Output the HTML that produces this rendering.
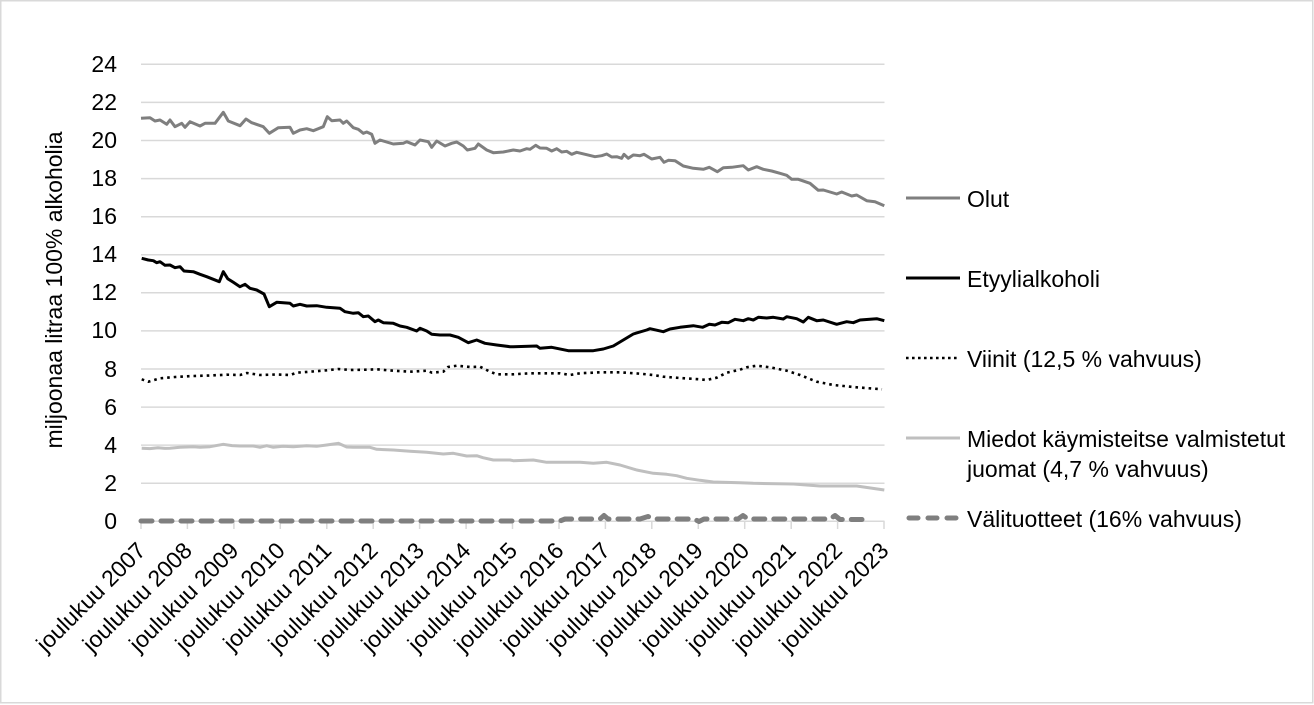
<!DOCTYPE html>
<html>
<head>
<meta charset="utf-8">
<style>
html,body{margin:0;padding:0;background:#fff;}
svg{display:block;}
text{font-family:"Liberation Sans",Arial,sans-serif;fill:#000;}
</style>
</head>
<body>
<svg width="1314" height="705" viewBox="0 0 1314 705" xmlns="http://www.w3.org/2000/svg">
<rect x="0.75" y="0.75" width="1312" height="702" fill="#fff" stroke="#d9d9d9" stroke-width="1.5"/>

<!-- gridlines -->
<g stroke="#d9d9d9" stroke-width="1.5">
<line x1="141" y1="64.3" x2="884.5" y2="64.3"/>
<line x1="141" y1="102.4" x2="884.5" y2="102.4"/>
<line x1="141" y1="140.5" x2="884.5" y2="140.5"/>
<line x1="141" y1="178.6" x2="884.5" y2="178.6"/>
<line x1="141" y1="216.7" x2="884.5" y2="216.7"/>
<line x1="141" y1="254.7" x2="884.5" y2="254.7"/>
<line x1="141" y1="292.8" x2="884.5" y2="292.8"/>
<line x1="141" y1="330.9" x2="884.5" y2="330.9"/>
<line x1="141" y1="369.0" x2="884.5" y2="369.0"/>
<line x1="141" y1="407.1" x2="884.5" y2="407.1"/>
<line x1="141" y1="445.1" x2="884.5" y2="445.1"/>
<line x1="141" y1="483.2" x2="884.5" y2="483.2"/>
<line x1="141" y1="521.3" x2="884.5" y2="521.3"/>
<!-- ticks -->
<line x1="141.0" y1="521" x2="141.0" y2="529"/>
<line x1="187.4" y1="521" x2="187.4" y2="529"/>
<line x1="233.9" y1="521" x2="233.9" y2="529"/>
<line x1="280.3" y1="521" x2="280.3" y2="529"/>
<line x1="326.8" y1="521" x2="326.8" y2="529"/>
<line x1="373.2" y1="521" x2="373.2" y2="529"/>
<line x1="419.6" y1="521" x2="419.6" y2="529"/>
<line x1="466.1" y1="521" x2="466.1" y2="529"/>
<line x1="512.5" y1="521" x2="512.5" y2="529"/>
<line x1="559.0" y1="521" x2="559.0" y2="529"/>
<line x1="605.4" y1="521" x2="605.4" y2="529"/>
<line x1="651.8" y1="521" x2="651.8" y2="529"/>
<line x1="698.3" y1="521" x2="698.3" y2="529"/>
<line x1="744.7" y1="521" x2="744.7" y2="529"/>
<line x1="791.2" y1="521" x2="791.2" y2="529"/>
<line x1="837.6" y1="521" x2="837.6" y2="529"/>
<line x1="884.0" y1="521" x2="884.0" y2="529"/>
</g>

<!-- y tick labels -->
<g font-size="23" text-anchor="end">
<text x="117" y="72">24</text>
<text x="117" y="110">22</text>
<text x="117" y="148">20</text>
<text x="117" y="186">18</text>
<text x="117" y="224">16</text>
<text x="117" y="262">14</text>
<text x="117" y="300">12</text>
<text x="117" y="338">10</text>
<text x="117" y="377">8</text>
<text x="117" y="415">6</text>
<text x="117" y="453">4</text>
<text x="117" y="491">2</text>
<text x="117" y="529">0</text>
</g>

<!-- y axis title -->
<text font-size="23" text-anchor="middle" transform="translate(62,290) rotate(-90)">miljoonaa litraa 100% alkoholia</text>

<!-- x labels -->
<g font-size="23" text-anchor="end">
<text transform="translate(147,552) rotate(-45)">joulukuu 2007</text>
<text transform="translate(193.4,552) rotate(-45)">joulukuu 2008</text>
<text transform="translate(239.9,552) rotate(-45)">joulukuu 2009</text>
<text transform="translate(286.3,552) rotate(-45)">joulukuu 2010</text>
<text transform="translate(332.8,552) rotate(-45)">joulukuu 2011</text>
<text transform="translate(379.2,552) rotate(-45)">joulukuu 2012</text>
<text transform="translate(425.6,552) rotate(-45)">joulukuu 2013</text>
<text transform="translate(472.1,552) rotate(-45)">joulukuu 2014</text>
<text transform="translate(518.5,552) rotate(-45)">joulukuu 2015</text>
<text transform="translate(565.0,552) rotate(-45)">joulukuu 2016</text>
<text transform="translate(611.4,552) rotate(-45)">joulukuu 2017</text>
<text transform="translate(657.8,552) rotate(-45)">joulukuu 2018</text>
<text transform="translate(704.3,552) rotate(-45)">joulukuu 2019</text>
<text transform="translate(750.7,552) rotate(-45)">joulukuu 2020</text>
<text transform="translate(797.2,552) rotate(-45)">joulukuu 2021</text>
<text transform="translate(843.6,552) rotate(-45)">joulukuu 2022</text>
<text transform="translate(890.0,552) rotate(-45)">joulukuu 2023</text>
</g>

<!-- Välituotteet -->
<polyline fill="none" stroke="#7f7f7f" stroke-width="5" stroke-linecap="round" stroke-linejoin="round" stroke-dasharray="11 9"
points="141,521 560,521 565,519 600,519 604,515.5 608,519 640,519 648,516.5 655,519 694,519 699,521.5 704,519 738,519 743,515.5 748,519 830,519 835,515.5 840,519.5 862,519.5"/>

<!-- Miedot -->
<polyline fill="none" stroke="#bfbfbf" stroke-width="3" stroke-linejoin="round"
points="141.7,448.3 150,448.6 158,447.8 165,448.4 170,448.3 180,447.3 193.3,446.7 200,447.2 210,446.7 223.3,444.3 232,445.6 240,446 253.3,446 260,447.3 266.7,445.7 273.3,447.3 283,446.3 293.3,446.7 306.7,445.7 316.7,446.3 326.7,445 338.3,443.3 346.7,447 353.3,447.3 370,447.3 376.7,449.3 393.3,450 410,451.3 426.7,452.3 443.3,454 453.3,453.3 466.7,456 476.7,455.7 483,457.7 493.3,460 510,460 513.3,460.7 533.3,460 546.7,462.3 580,462.3 593.3,463.3 606.7,462.3 620,465 636.7,470 653.3,473.3 666.7,474.3 676.7,475.7 686.7,478.3 700,480.3 713.3,482 740,482.7 753.3,483.3 793.3,484 820,486 856.7,486 884.3,490"/>

<!-- Viinit -->
<polyline fill="none" stroke="#000" stroke-width="2.6" stroke-dasharray="2.6 4" stroke-linejoin="round"
points="141.7,379.3 148.3,381.7 160,378.3 175,377 193.3,376 210,375.5 226.7,374.7 240,375 247,373 260,375 276.7,374.5 290,375 296.7,372.7 310,371.7 326.7,370.3 338.3,369 350,370 366.7,369.7 376.7,369.3 393.3,370.7 410,371.7 426.7,370.7 432,372.7 443.3,371.7 448,367 456.7,365.7 470,367 480,366.7 490,371.7 496.7,374.3 513.3,374.3 530,373.3 560,373.3 570,375 580,373.3 600,372.3 620,372.3 640,373.7 653.3,375 663.3,376.7 680,378 700,379.3 706.7,380 716.7,377.7 726.7,372.7 740,369.7 746.7,367.3 756.7,365.7 770,367.3 786.7,370.7 800,375 816.7,381.7 833.3,385 856.7,387.3 882,389.3"/>

<!-- Etyylialkoholi -->
<polyline fill="none" stroke="#000" stroke-width="3" stroke-linejoin="round"
points="141.7,258.3 148.3,260 153.3,260.7 156.7,262.7 160,261.7 165,265.3 170,265 175,267.7 180,266.7 184,271 193.3,271.7 200,274.3 206.7,276.7 219.3,281.7 223.3,271.7 227.7,278.7 233.3,282.3 240,286.7 245,284.3 250,288.3 256.7,290 264,294 269.3,306.7 276.7,302.3 290,303.3 293.3,306 300,304.3 306.7,306 316.7,305.7 326.7,307.3 340,308.3 345,311.7 353.3,313.3 358.3,312.7 363.3,316.7 368.3,316 375,321.7 378.3,320 383.3,322.7 393.3,323.3 400,326 406.7,327.3 416.7,331 420,328.3 426.7,331 431.7,334.3 440,335 450,335 458.3,337.3 468.3,342.7 476.7,340 485,343.3 496.7,345 510,346.7 513.3,346.7 536.7,346 540,348.3 551.7,347.3 556.7,348.3 568.3,350.7 593.3,350.7 603.3,349 613.3,346 623.3,340 633.3,334 646.7,330 650,328.7 663.3,331.7 670,329 680,327.3 693.3,325.7 702.7,327.3 709.3,324.3 715,325 721.7,322.3 728.3,322.7 735,319.3 743.3,320.7 748.3,318.7 753.3,320 758.3,317.3 766.7,318 773.3,317.3 783.3,319 786.7,316.7 796.7,318.7 803.3,322 808.3,317.3 816.7,320.7 823.3,320 836.7,324.3 846.7,321.7 853.3,322.7 860,320 876.7,318.7 884.3,320.7"/>

<!-- Olut -->
<polyline fill="none" stroke="#7f7f7f" stroke-width="3" stroke-linejoin="round"
points="141,118.3 150,117.7 155,121 160,120 166.7,124.3 170,120 175,126.7 181.7,123.3 185,127.3 190,121.7 200,126 205,123.3 215,123.3 223.3,112.3 228.3,121 240,125.7 246,119 251.7,122.7 263.3,126.7 269.3,133.3 278.3,127.7 290,127.3 293.3,133.3 300,130 306.7,128.7 313.3,130.7 323.3,126.7 327.3,116.7 331.7,120.7 340,120 343.3,123.3 346.7,121 353.3,127.7 358.3,129.3 363.3,133.3 366.7,132 371.7,134.3 375,143.3 380,140 393.3,144 403.3,143.3 406.7,141.7 415,145 420,140 428.3,141.7 431.7,147.3 436.7,141 445,146 451.7,143.3 456.7,142 463.3,146 467.3,150 475,148.3 478.3,144 486.7,150 493.3,152.7 503.3,152 513.3,150 520,151 526.7,148.7 530,149.3 535.7,145.3 540,148 546.7,148.3 551.7,151 556.7,148.7 561.7,152 566.7,151.3 571.7,154.3 576.7,152.3 586.7,154.7 595,156.7 601.7,155.7 606.7,154 611.7,157 616.7,156.7 621.7,158.3 624,154.3 628.3,158.3 633.3,155 640,155.7 644,154.3 651.7,159 660,157.3 664,162.3 668.3,160.3 675,160.7 683.3,166 693.3,168.3 703.3,169.3 709.3,167.3 717.3,171.7 723.3,167.7 731.7,167.3 743.3,165.7 748.3,170 756.7,166.7 763.3,169.3 771.7,171 780,173.3 786.7,175.3 791.7,179.3 798.3,179.3 810,183.3 818.3,190.3 823.3,190 836.7,194 841.7,192 851.7,196 856.7,195 866.7,200.7 875,201.7 884.3,205.7"/>

<!-- legend -->
<line x1="906" y1="198" x2="960" y2="198" stroke="#7f7f7f" stroke-width="3"/>
<line x1="906" y1="278" x2="960" y2="278" stroke="#000" stroke-width="3"/>
<line x1="906" y1="358" x2="958" y2="358" stroke="#000" stroke-width="2.6" stroke-dasharray="2.6 3.4"/>
<line x1="906" y1="438" x2="960" y2="438" stroke="#bfbfbf" stroke-width="3"/>
<line x1="909" y1="518" x2="958" y2="518" stroke="#7f7f7f" stroke-width="5" stroke-linecap="round" stroke-dasharray="9 10"/>
<g font-size="23">
<text x="967" y="207">Olut</text>
<text x="967" y="287">Etyylialkoholi</text>
<text x="967" y="367">Viinit (12,5 % vahvuus)</text>
<text x="967" y="447">Miedot käymisteitse valmistetut</text>
<text x="967" y="477">juomat (4,7 % vahvuus)</text>
<text x="967" y="527">Välituotteet (16% vahvuus)</text>
</g>
</svg>
</body>
</html>
